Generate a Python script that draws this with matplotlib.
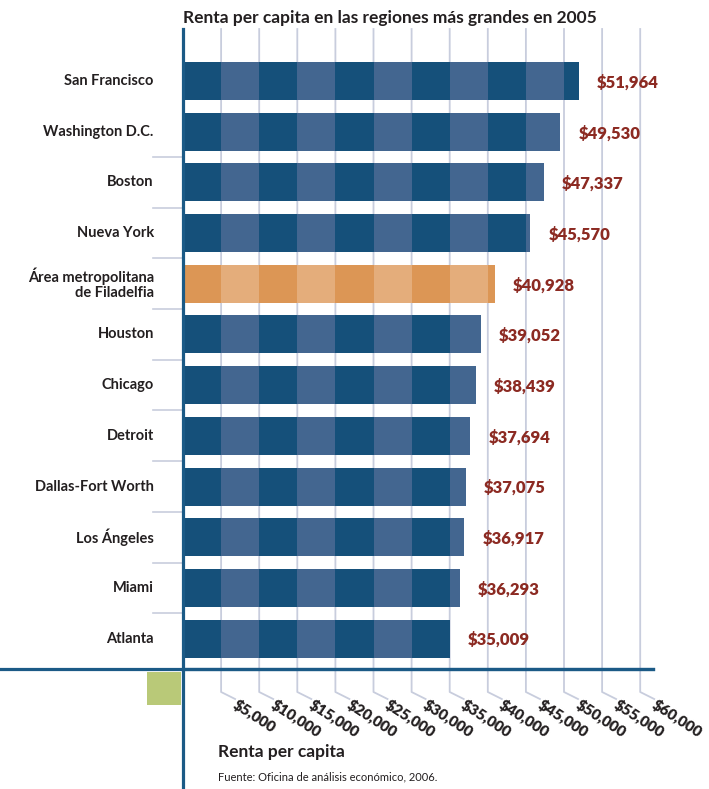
import matplotlib
matplotlib.use("Agg")
import matplotlib.pyplot as plt
from matplotlib.patches import Rectangle
from matplotlib.lines import Line2D
from matplotlib.transforms import blended_transform_factory

plt.rcParams['font.family'] = ['Lato', 'DejaVu Sans']

# data
regions = ["San Francisco", "Washington D.C.", "Boston", "Nueva York",
           "Área metropolitana\nde Filadelfia", "Houston", "Chicago", "Detroit",
           "Dallas-Fort Worth", "Los Ángeles", "Miami", "Atlanta"]
income = [51964, 49530, 47337, 45570, 40928, 39052, 38439, 37694,
          37075, 36917, 36293, 35009]
highlight = "Área metropolitana\nde Filadelfia"
ticks = [5000, 10000, 15000, 20000, 25000, 30000, 35000, 40000,
         45000, 50000, 55000, 60000]
tick_labels = ["$5,000", "$10,000", "$15,000", "$20,000", "$25,000", "$30,000",
               "$35,000", "$40,000", "$45,000", "$50,000", "$55,000", "$60,000"]

W, H = 709, 789
fig = plt.figure(figsize=(W / 100, H / 100), dpi=100)

# axes placed in pixel terms: x=0 at px 183, axis line at px 669
ax = fig.add_axes([183 / W, 1 - 669 / H, (653 - 183) / W, (669 - 29) / H])
xmax = 470 * 5000 / 38.1
ax.set_xlim(0, xmax)
ax.set_ylim(11.60, -1.026)
ax.axis("off")

dark_blue, light_blue = "#15507a", "#436690"
dark_orng, light_orng = "#dc9655", "#e4ad7b"
grid_c = "#c8cddd"
axis_c = "#1b5a86"
red = "#8c2a22"
txt = "#231f20"

step = 5000
for i, (name, val) in enumerate(zip(regions, income)):
    c1, c2 = (dark_orng, light_orng) if name == highlight else (dark_blue, light_blue)
    k = 0
    while k * step < val:
        w = min(step, val - k * step)
        ax.barh(i, w, left=k * step, height=0.75, color=c1 if k % 2 == 0 else c2,
                zorder=3, linewidth=0)
        k += 1
    ax.annotate(f"${val:,}", xy=(val, i), xytext=(13, -1), textcoords="offset points",
                ha="left", va="center", fontsize=12, fontweight="heavy", color=red)
    ax.annotate(name, xy=(0, i), xytext=(-21, 0), textcoords="offset points",
                ha="right", va="center", fontsize=10.5, fontweight="bold",
                color=txt, multialignment="right", linespacing=1.15)

# short separators left of the axis
for b in range(1, len(regions) - 1):
    ax.plot([-30 * xmax / 470, 0], [b + 0.5, b + 0.5], color=grid_c, lw=1.2,
            clip_on=False, zorder=1)

# gridlines bending down to slanted tick labels
tr = blended_transform_factory(ax.transData, ax.transAxes)
y_bend = -23 / 640
y_end = -30 / 640
dx = 14 * xmax / 470
for t, lab in zip(ticks, tick_labels):
    ax.plot([t, t, t + dx], [1, y_bend, y_end], color=grid_c, lw=1.3,
            transform=tr, clip_on=False, zorder=1)
    ax.text(t + dx + 3 * xmax / 470, y_end + 2 / 640, lab, transform=tr,
            rotation=-33, rotation_mode="anchor", ha="left", va="top",
            fontsize=11, fontweight="heavy", color=txt)

# axis lines
ax.plot([0, 1], [0, 0], transform=ax.transAxes, color=axis_c, lw=2.3,
        clip_on=False, zorder=4)
fig.add_artist(Line2D([0, 653 / W], [1 - 669 / H] * 2, color=axis_c, lw=2.3))
fig.add_artist(Line2D([183 / W] * 2, [0, 1 - 29 / H], color=axis_c, lw=2.3,
                      zorder=5))

# green square
fig.add_artist(Rectangle((147 / W, 1 - 705 / H), 34 / W, 33 / H,
                         color="#b9c978", lw=0))

fig.text(390 / W, 1 - 18 / H, "Renta per capita en las regiones más grandes en 2005",
         ha="center", va="center", fontsize=12.5, fontweight="bold", color=txt)
fig.text(218 / W, 1 - 752 / H, "Renta per capita", ha="left", va="center",
         fontsize=12.5, fontweight="bold", color=txt)
fig.text(218 / W, 1 - 777 / H, "Fuente: Oficina de análisis económico, 2006.",
         ha="left", va="center", fontsize=8, color=txt)

fig.savefig("out.png", dpi=100, facecolor="white")
